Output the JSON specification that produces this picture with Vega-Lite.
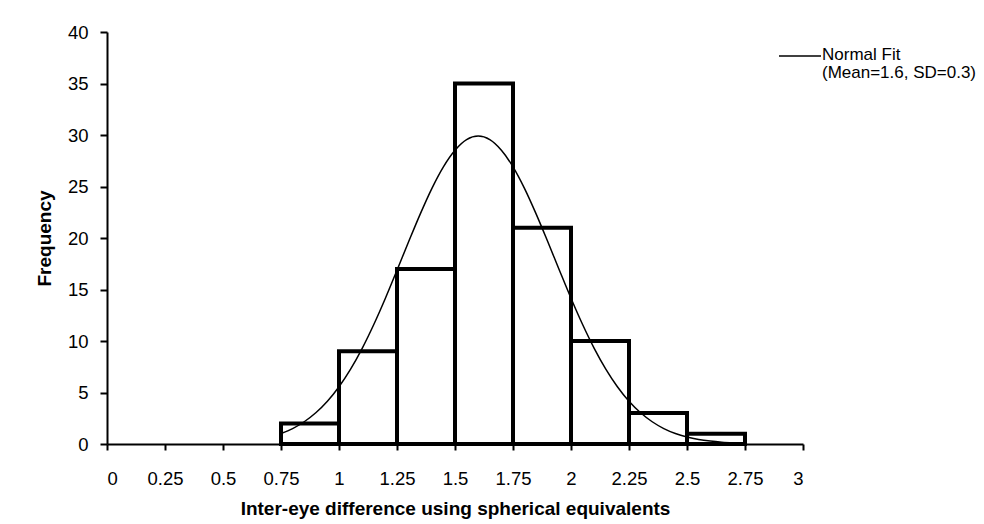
{
  "$schema": "https://vega.github.io/schema/vega-lite/v6.json",
  "width": 696,
  "height": 412,
  "autosize": {"type": "none"},
  "padding": {"left": 107, "top": 32, "right": 181, "bottom": 80},
  "background": "white",
  "datasets": {
    "bars": [
      {"bin_start": 0.75, "bin_end": 1.0, "count": 2},
      {"bin_start": 1.0, "bin_end": 1.25, "count": 9},
      {"bin_start": 1.25, "bin_end": 1.5, "count": 17},
      {"bin_start": 1.5, "bin_end": 1.75, "count": 35},
      {"bin_start": 1.75, "bin_end": 2.0, "count": 21},
      {"bin_start": 2.0, "bin_end": 2.25, "count": 10},
      {"bin_start": 2.25, "bin_end": 2.5, "count": 3},
      {"bin_start": 2.5, "bin_end": 2.75, "count": 1}
    ],
    "curve": [
      {"x": 0.75, "y": 1.02}, {"x": 0.8, "y": 1.5}, {"x": 0.85, "y": 2.16}, {"x": 0.9, "y": 3.03},
      {"x": 0.95, "y": 4.15}, {"x": 1.0, "y": 5.56}, {"x": 1.05, "y": 7.27}, {"x": 1.1, "y": 9.29},
      {"x": 1.15, "y": 11.6}, {"x": 1.2, "y": 14.15}, {"x": 1.25, "y": 16.87}, {"x": 1.3, "y": 19.63},
      {"x": 1.35, "y": 22.32}, {"x": 1.4, "y": 24.8}, {"x": 1.45, "y": 26.91}, {"x": 1.5, "y": 28.52},
      {"x": 1.55, "y": 29.55}, {"x": 1.6, "y": 29.9}, {"x": 1.65, "y": 29.55}, {"x": 1.7, "y": 28.52},
      {"x": 1.75, "y": 26.91}, {"x": 1.8, "y": 24.8}, {"x": 1.85, "y": 22.32}, {"x": 1.9, "y": 19.63},
      {"x": 1.95, "y": 16.87}, {"x": 2.0, "y": 14.15}, {"x": 2.05, "y": 11.6}, {"x": 2.1, "y": 9.29},
      {"x": 2.15, "y": 7.27}, {"x": 2.2, "y": 5.56}, {"x": 2.25, "y": 4.15}, {"x": 2.3, "y": 3.03},
      {"x": 2.35, "y": 2.16}, {"x": 2.4, "y": 1.5}, {"x": 2.45, "y": 1.02}, {"x": 2.5, "y": 0.68},
      {"x": 2.55, "y": 0.44}, {"x": 2.6, "y": 0.28}, {"x": 2.65, "y": 0.17}, {"x": 2.7, "y": 0.1}
    ]
  },
  "layer": [
    {
      "data": {"name": "bars"},
      "mark": {"type": "rect", "fill": "white", "stroke": "black", "strokeWidth": 4, "strokeJoin": "miter"},
      "encoding": {
        "x": {
          "field": "bin_start", "type": "quantitative",
          "scale": {"domain": [0, 3], "nice": false, "zero": false},
          "axis": {
            "values": [0, 0.25, 0.5, 0.75, 1, 1.25, 1.5, 1.75, 2, 2.25, 2.5, 2.75, 3],
            "labelExpr": "'' + datum.value",
            "title": "Inter-eye difference using spherical equivalents",
            "tickSize": 6, "labelPadding": 19, "titlePadding": 12,
            "labelFontSize": 18.5, "titleFontSize": 19, "titleFontWeight": "bold"
          }
        },
        "x2": {"field": "bin_end"},
        "y": {
          "field": "count", "type": "quantitative",
          "scale": {"domain": [0, 40], "nice": false},
          "axis": {
            "values": [0, 5, 10, 15, 20, 25, 30, 35, 40],
            "format": "d",
            "title": "Frequency",
            "tickSize": 7, "labelPadding": 12, "titlePadding": 13,
            "labelFontSize": 18.5, "titleFontSize": 19, "titleFontWeight": "bold"
          }
        },
        "y2": {"datum": 0}
      }
    },
    {
      "data": {"name": "curve"},
      "mark": {"type": "line", "strokeWidth": 1.5, "interpolate": "monotone"},
      "encoding": {
        "x": {"field": "x", "type": "quantitative"},
        "y": {"field": "y", "type": "quantitative"},
        "color": {
          "datum": "Normal Fit",
          "scale": {"range": ["black"]},
          "legend": {
            "orient": "none",
            "legendX": 671,
            "legendY": 2,
            "title": null,
            "padding": 0,
            "symbolType": "stroke",
            "symbolSize": 1764,
            "symbolStrokeWidth": 1.5,
            "symbolStrokeColor": "black",
            "labelExpr": "['Normal Fit', '(Mean=1.6, SD=0.3)']",
            "labelFontSize": 17,
            "labelColor": "black",
            "labelBaseline": "top",
            "labelOffset": 0,
            "labelLimit": 0,
            "labelFont": "Liberation Sans",
            "encode": {"labels": {"update": {"lineHeight": {"value": 18}, "dy": {"value": -9}}}}
          }
        }
      }
    }
  ],
  "config": {
    "view": {"stroke": null},
    "font": "Liberation Sans",
    "axis": {
      "grid": false,
      "domainColor": "black",
      "domainWidth": 2,
      "tickColor": "black",
      "tickWidth": 2,
      "labelColor": "black",
      "titleColor": "black",
      "labelFont": "Liberation Sans",
      "titleFont": "Liberation Sans"
    },
    "legend": {"labelFont": "Liberation Sans"}
  }
}
